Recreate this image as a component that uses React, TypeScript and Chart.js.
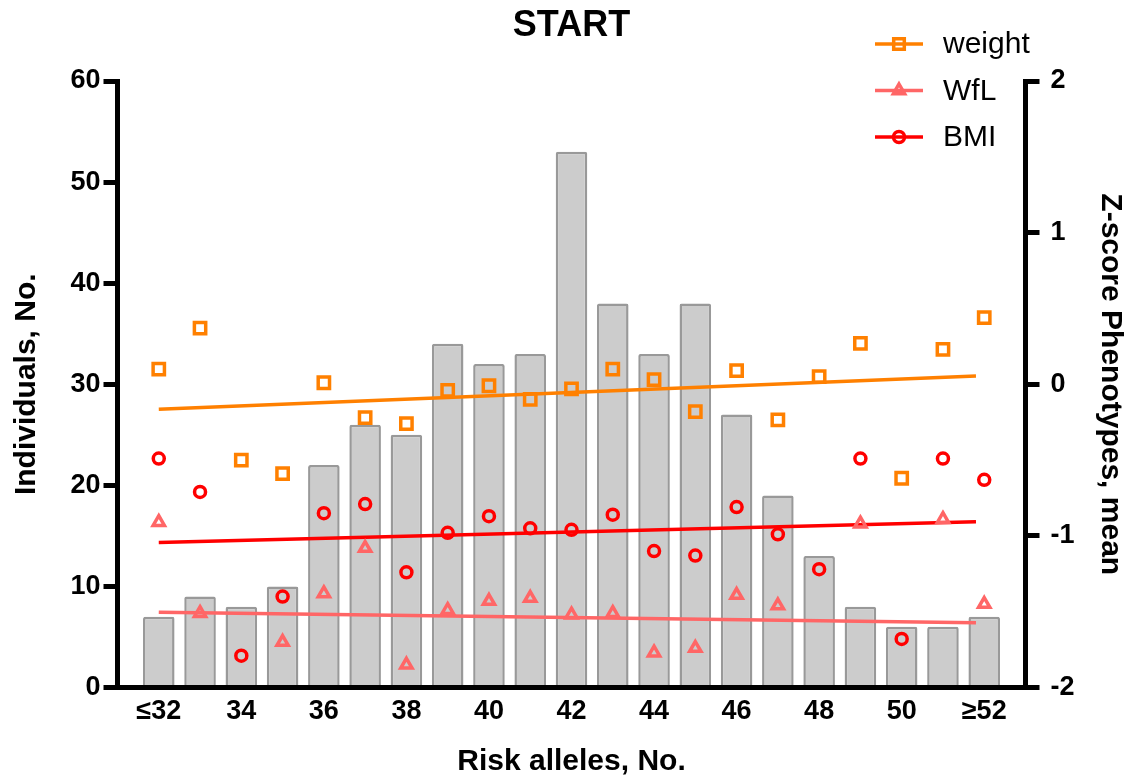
import React, { useEffect, useRef } from 'react';
import { Chart, registerables } from 'chart.js';

Chart.register(...registerables);

// ---- Data ----
const categories = [32, 33, 34, 35, 36, 37, 38, 39, 40, 41, 42, 43, 44, 45, 46, 47, 48, 49, 50, 51, 52];
const counts = [7, 9, 8, 10, 22, 26, 25, 34, 32, 33, 53, 38, 33, 38, 27, 19, 13, 8, 6, 6, 7];
const weightZ = [0.10, 0.37, -0.50, -0.59, 0.01, -0.22, -0.26, -0.04, -0.01, -0.10, -0.03, 0.10, 0.03, -0.18, 0.09, -0.235, 0.05, 0.27, -0.62, 0.23, 0.44];
const wflZ: (number | null)[] = [-0.91, -1.51, null, -1.70, -1.38, -1.08, -1.85, -1.49, -1.43, -1.41, -1.52, -1.51, -1.77, -1.74, -1.39, -1.46, null, -0.92, null, -0.89, -1.45];
const bmiZ = [-0.49, -0.71, -1.79, -1.40, -0.85, -0.79, -1.24, -0.98, -0.87, -0.95, -0.96, -0.86, -1.10, -1.13, -0.81, -0.99, -1.22, -0.49, -1.68, -0.49, -0.63];
const trendX = [32, 51.8];
const weightTrend = [-0.165, 0.054];
const wflTrend = [-1.504, -1.573];
const bmiTrend = [-1.043, -0.907];
const xTickValues = [32, 34, 36, 38, 40, 42, 44, 46, 48, 50, 52];

const ORANGE = '#FF8000';
const PINK = '#FF6666';
const RED = '#FF0000';
const FONT = "'Liberation Sans', Arial, Helvetica, sans-serif";

const legendItems = [
  { label: 'weight', color: ORANGE, style: 'rect', r: 7.5 },
  { label: 'WfL', color: PINK, style: 'triangle', r: 6.5 },
  { label: 'BMI', color: RED, style: 'circle', r: 5.5 },
];

function drawMarker(ctx: CanvasRenderingContext2D, style: string, x: number, y: number, r: number) {
  ctx.beginPath();
  if (style === 'rect') {
    const s = r * Math.SQRT1_2;
    ctx.rect(x - s, y - s, 2 * s, 2 * s);
  } else if (style === 'triangle') {
    ctx.moveTo(x, y - r);
    ctx.lineTo(x + r * 0.866, y + r / 2);
    ctx.lineTo(x - r * 0.866, y + r / 2);
    ctx.closePath();
  } else {
    ctx.arc(x, y, r, 0, Math.PI * 2);
  }
  ctx.stroke();
}

const legendPlugin = {
  id: 'customLegend',
  afterDraw(chart: any) {
    const ctx: CanvasRenderingContext2D = chart.ctx;
    ctx.save();
    legendItems.forEach((it, i) => {
      const y = 44 + i * 46.5;
      ctx.strokeStyle = it.color;
      ctx.lineWidth = 3.5;
      ctx.beginPath();
      ctx.moveTo(875, y);
      ctx.lineTo(923, y);
      ctx.stroke();
      drawMarker(ctx, it.style, 899, y, it.r);
      ctx.fillStyle = '#000';
      ctx.font = `30px ${FONT}`;
      ctx.textBaseline = 'middle';
      ctx.textAlign = 'left';
      ctx.fillText(it.label, 943, y + 1);
    });
    ctx.restore();
  },
};

const tickFont = { family: FONT, size: 27, weight: 'bold' as const };
const titleFont = { family: FONT, size: 30, weight: 'bold' as const };

export default function App() {
  const ref = useRef<HTMLCanvasElement>(null);

  useEffect(() => {
    if (!ref.current) return;
    const pts = (ys: (number | null)[]) =>
      categories.map((c, i) => ({ x: c, y: ys[i] })).filter((p) => p.y !== null);
    const trend = (ys: number[]) => trendX.map((x, i) => ({ x, y: ys[i] }));

    const marker = (label: string, ys: (number | null)[], color: string, style: string, r: number) => ({
      type: 'line',
      label,
      data: pts(ys) as any,
      yAxisID: 'y1',
      showLine: false,
      pointStyle: style,
      pointRadius: r,
      pointBorderWidth: 3.5,
      borderColor: color,
      pointBorderColor: color,
      pointBackgroundColor: 'rgba(0,0,0,0)',
      order: 1,
    });
    const trendLine = (label: string, ys: number[], color: string) => ({
      type: 'line',
      label,
      data: trend(ys) as any,
      yAxisID: 'y1',
      borderColor: color,
      borderWidth: 3.5,
      pointRadius: 0,
      fill: false,
      order: 2,
    });

    const chart = new Chart(ref.current, {
      type: 'bar',
      data: {
        datasets: [
          marker('weight', weightZ, ORANGE, 'rect', 8),
          marker('WfL', wflZ, PINK, 'triangle', 6.5),
          marker('BMI', bmiZ, RED, 'circle', 5.5),
          trendLine('weight trend', weightTrend, ORANGE),
          trendLine('WfL trend', wflTrend, PINK),
          trendLine('BMI trend', bmiTrend, RED),
          {
            type: 'bar',
            label: 'Individuals',
            data: categories.map((c, i) => ({ x: c, y: counts[i] })) as any,
            yAxisID: 'y',
            backgroundColor: '#CCCCCC',
            borderColor: '#999999',
            borderWidth: 2.5,
            borderRadius: 2,
            borderSkipped: 'start',
            barPercentage: 0.765,
            categoryPercentage: 1,
            order: 3,
          },
        ],
      },
      options: {
        responsive: false,
        animation: false,
        devicePixelRatio: 1,
        layout: { padding: 0 },
        plugins: {
          legend: { display: false },
          tooltip: { enabled: false },
          title: {
            display: true,
            text: 'START',
            color: '#000',
            fullSize: false,
            align: 'center',
            font: { family: FONT, size: 36, weight: 'bold', lineHeight: 1.2 },
            padding: { top: 4.5, bottom: 33.3 },
          },
        },
        scales: {
          x: {
            type: 'linear',
            position: 'bottom',
            min: 31,
            max: 53,
            offset: false,
            afterBuildTicks: (s: any) => {
              s.ticks = xTickValues.map((v) => ({ value: v }));
            },
            afterFit: (s: any) => {
              s.height = 90.5;
            },
            grid: { display: false, drawTicks: false, tickLength: 0 },
            border: { display: true, color: '#000', width: 5 },
            ticks: {
              autoSkip: false,
              maxRotation: 0,
              minRotation: 0,
              padding: 8,
              color: '#000',
              font: tickFont,
              callback: (v: any) => (v === 32 ? '≤32' : v === 52 ? '≥52' : String(v)),
            },
            title: {
              display: true,
              text: 'Risk alleles, No.',
              color: '#000',
              font: { ...titleFont, lineHeight: 1.1 },
              padding: { top: 0, bottom: 0 },
            },
          },
          y: {
            type: 'linear',
            position: 'left',
            min: 0,
            max: 60,
            afterFit: (s: any) => {
              s.width = 117.5;
            },
            grid: { display: true, drawOnChartArea: false, drawTicks: true, tickLength: 14, lineWidth: 5, color: '#000' },
            border: { display: true, color: '#000', width: 5 },
            ticks: { stepSize: 10, padding: 3, color: '#000', font: tickFont },
            title: {
              display: true,
              text: 'Individuals, No.',
              color: '#000',
              font: { ...titleFont, lineHeight: 1.2 },
              padding: { top: 9, bottom: 0 },
            },
          },
          y1: {
            type: 'linear',
            position: 'right',
            min: -2,
            max: 2,
            afterFit: (s: any) => {
              s.width = 104.5;
            },
            grid: { display: true, drawOnChartArea: false, drawTicks: true, tickLength: 14, lineWidth: 5, color: '#000' },
            border: { display: true, color: '#000', width: 5 },
            ticks: { stepSize: 1, padding: 11, color: '#000', font: tickFont },
            title: {
              display: true,
              text: 'Z-score Phenotypes, mean',
              color: '#000',
              font: { ...titleFont, lineHeight: 1 },
              padding: { top: 5, bottom: 0 },
            },
          },
        },
      },
      plugins: [legendPlugin],
    } as any);

    return () => chart.destroy();
  }, []);

  return (
    <div style={{ position: 'absolute', left: 0, top: 0, width: 1130, height: 778, background: '#fff' }}>
      <canvas ref={ref} width={1130} height={778} style={{ display: 'block', width: 1130, height: 778 }} />
    </div>
  );
}
